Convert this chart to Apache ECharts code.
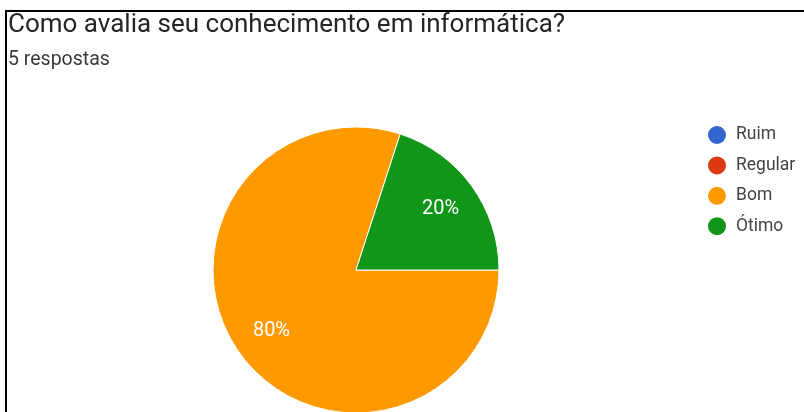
<!DOCTYPE html>
<html>
<head>
<meta charset="utf-8">
<script src="https://cdn.jsdelivr.net/npm/echarts@6/dist/echarts.min.js"></script>
<style>
  html, body { margin: 0; padding: 0; background: #fff; }
  #chart { width: 804px; height: 412px; }
</style>
</head>
<body>
<div id="chart"></div>
<script>
// Survey answers: "Como avalia seu conhecimento em informática?"
const categories = ['Ruim', 'Regular', 'Bom', 'Ótimo'];
const responses = [0, 0, 4, 1];
const colors = ['#3366cc', '#dc3912', '#ff9900', '#109618'];
const titleText = 'Como avalia seu conhecimento em informática?';
const subtitleText = '5 respostas';

const total = responses.reduce((a, b) => a + b, 0);
const pieData = categories.map((name, i) => ({ name, value: responses[i] }));

const chart = echarts.init(document.getElementById('chart'));
const center = [356, 270];
const outerR = 143;

chart.setOption({
  animation: false,
  color: colors,
  title: [
    {
      text: titleText,
      left: 3, top: 8,
      padding: [4, 5],
      textStyle: { fontFamily: 'Roboto', fontSize: 26, fontWeight: 'normal', color: '#262626' }
    },
    {
      text: subtitleText,
      left: 3, top: 46,
      padding: [4, 5],
      textStyle: { fontFamily: 'Roboto', fontSize: 19.5, fontWeight: 'normal', color: '#3a3a3a' }
    }
  ],
  legend: {
    orient: 'vertical',
    left: 706, top: 124,
    padding: 0,
    icon: 'circle',
    itemWidth: 28, itemHeight: 20,
    itemGap: 8.4,
    selectedMode: false,
    data: categories,
    textStyle: { fontFamily: 'Roboto', fontSize: 17.5, lineHeight: 20, color: '#444' }
  },
  series: [
    {
      // the pie itself
      type: 'pie',
      center: center,
      radius: [0, outerR],
      startAngle: 0,
      clockwise: true,
      avoidLabelOverlap: false,
      label: { show: false },
      labelLine: { show: false },
      itemStyle: { borderColor: '#fff', borderWidth: 1 },
      emphasis: { disabled: true },
      data: pieData
    },
    {
      // transparent ring that carries the percentage labels
      type: 'pie',
      center: center,
      radius: [60, outerR],
      startAngle: 0,
      clockwise: true,
      silent: true,
      avoidLabelOverlap: false,
      itemStyle: { color: 'rgba(0,0,0,0)', borderWidth: 0 },
      label: {
        show: true,
        position: 'inside',
        fontFamily: 'Roboto',
        fontSize: 20,
        color: '#fff',
        formatter: p => p.value > 0 ? Math.round(p.value / total * 100) + '%' : ''
      },
      labelLine: { show: false },
      emphasis: { disabled: true },
      data: pieData
    }
  ],
  graphic: [
    { type: 'rect', shape: { x: 5, y: 10, width: 799, height: 2 }, style: { fill: '#000' }, silent: true },
    { type: 'rect', shape: { x: 5, y: 10, width: 2, height: 402 }, style: { fill: '#000' }, silent: true }
  ]
});
</script>
</body>
</html>
